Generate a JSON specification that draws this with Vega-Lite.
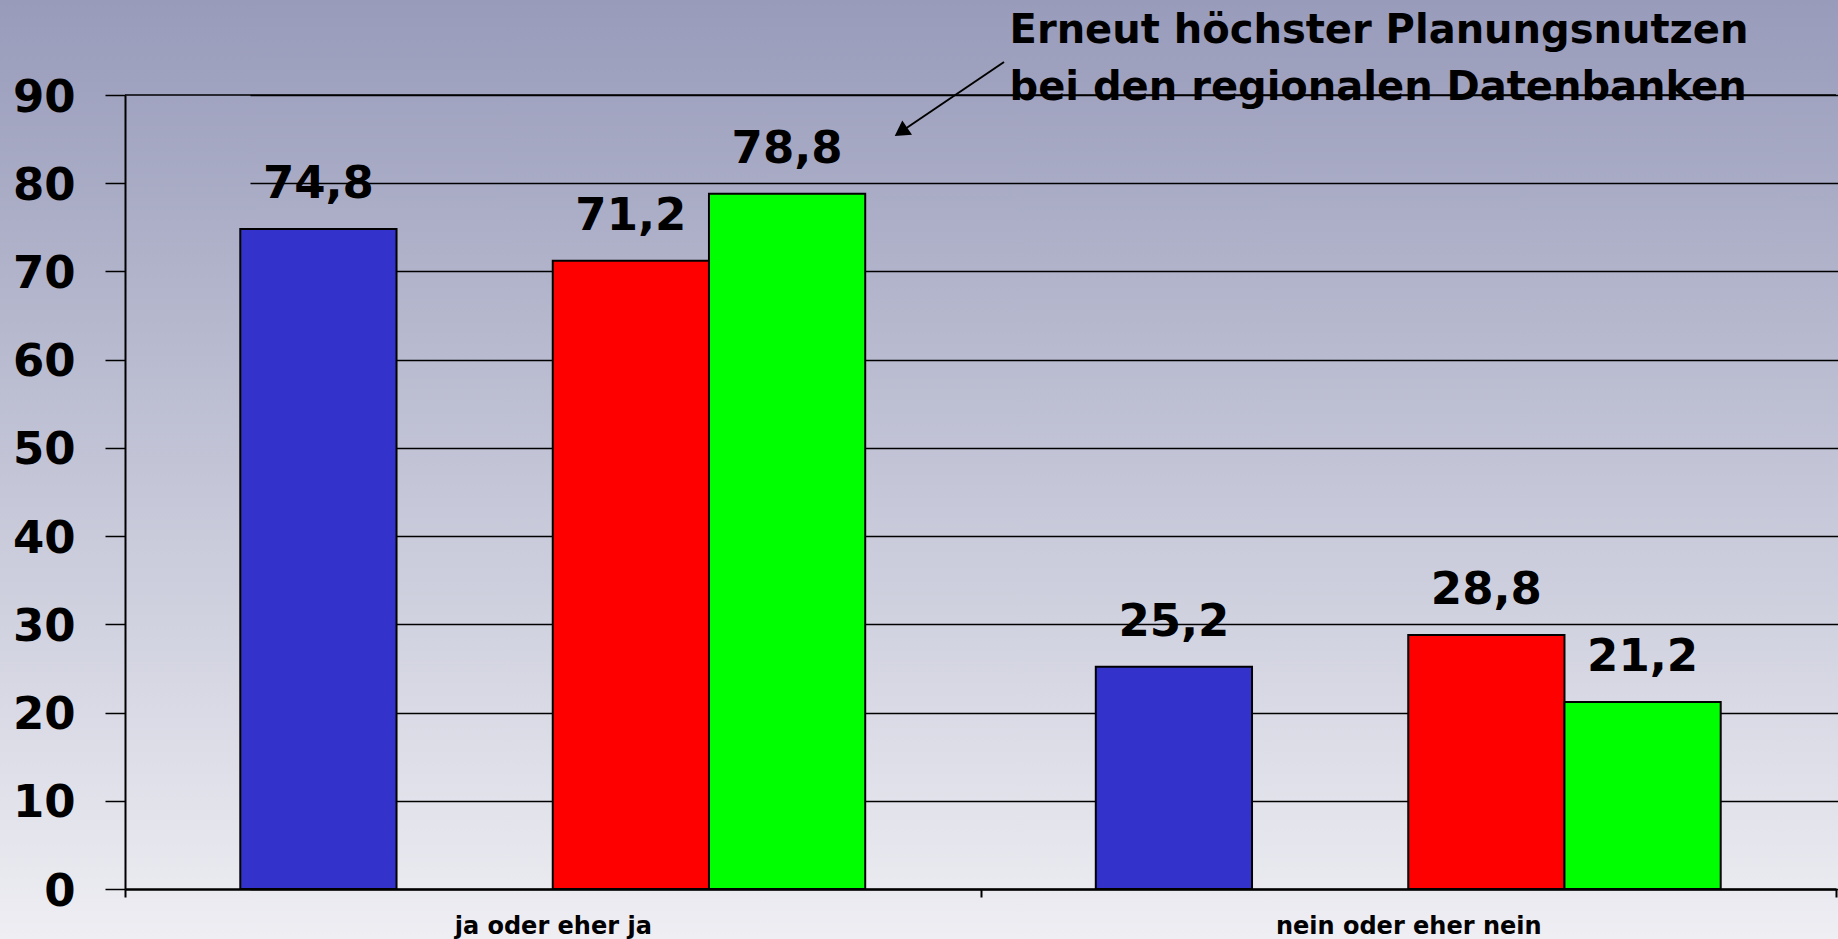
{
  "$schema": "https://vega.github.io/schema/vega-lite/v6.json",
  "width": 1838,
  "height": 939,
  "padding": 0,
  "autosize": {"type": "none"},
  "background": "#c4c5d6",
  "config": {
    "view": {
      "stroke": null,
      "fill": {
        "gradient": "linear",
        "x1": 0, "y1": 0, "x2": 0, "y2": 1,
        "stops": [
          {"offset": 0, "color": "#989bba"},
          {"offset": 1, "color": "#eeeef3"}
        ]
      }
    },
    "locale": {"number": {"decimal": ",", "thousands": ".", "grouping": [3], "currency": ["", " €"]}},
    "font": "DejaVu Sans",
    "axisX": {
      "orient": "bottom", "offset": -50, "tickBand": "extent",
      "tickSize": 8, "tickWidth": 2, "tickColor": "black",
      "domainColor": "black", "domainWidth": 2.5,
      "labelFont": "DejaVu Sans", "labelFontSize": 24, "labelFontWeight": "bold",
      "labelColor": "black", "labelPadding": 36, "labelBaseline": "alphabetic",
      "labelAngle": 0, "labelLimit": 1000, "grid": false
    },
    "axisY": {
      "offset": -125, "tickSize": 20, "tickWidth": 1.5, "tickColor": "black",
      "domainColor": "black", "domainWidth": 2,
      "grid": true, "gridColor": "black", "gridWidth": 1.5, "gridOpacity": 1,
      "labelFont": "DejaVu Sans", "labelFontSize": 45, "labelFontWeight": "bold",
      "labelColor": "black", "labelPadding": 30, "labelBaseline": "middle", "labelOffset": 2
    }
  },
  "data": {
    "values": [
      {"gruppe": "ja oder eher ja", "reihe": "Reihe 1", "wert": 74.8},
      {"gruppe": "ja oder eher ja", "reihe": "Reihe 3", "wert": 71.2},
      {"gruppe": "ja oder eher ja", "reihe": "Reihe 4", "wert": 78.8},
      {"gruppe": "nein oder eher nein", "reihe": "Reihe 1", "wert": 25.2},
      {"gruppe": "nein oder eher nein", "reihe": "Reihe 3", "wert": 28.8},
      {"gruppe": "nein oder eher nein", "reihe": "Reihe 4", "wert": 21.2}
    ]
  },
  "layer": [
    {
      "mark": {"type": "bar", "stroke": "black", "strokeWidth": 2},
      "encoding": {
        "x": {
          "field": "gruppe", "type": "nominal", "sort": null,
          "scale": {"range": [125, 1836], "paddingInner": 0, "paddingOuter": 0},
          "axis": {"title": null}
        },
        "xOffset": {
          "field": "reihe", "type": "nominal",
          "scale": {"domain": ["Reihe 1", "Reihe 2", "Reihe 3", "Reihe 4"], "paddingInner": 0, "paddingOuter": 0.738}
        },
        "y": {
          "field": "wert", "type": "quantitative",
          "scale": {"domain": [0, 90], "range": [889, 95], "nice": false, "zero": true},
          "axis": {"values": [0, 10, 20, 30, 40, 50, 60, 70, 80, 90], "title": null}
        },
        "color": {
          "field": "reihe", "type": "nominal",
          "scale": {"domain": ["Reihe 1", "Reihe 2", "Reihe 3", "Reihe 4"], "range": ["#3333cc", "#999999", "#ff0000", "#00ff00"]},
          "legend": null
        }
      }
    },
    {
      "mark": {"type": "text", "fontSize": 45, "fontWeight": "bold", "baseline": "alphabetic", "dy": -31, "color": "black", "font": "DejaVu Sans"},
      "encoding": {
        "x": {"field": "gruppe", "type": "nominal", "sort": null, "axis": {"title": null}},
        "xOffset": {"field": "reihe", "type": "nominal"},
        "y": {"field": "wert", "type": "quantitative", "axis": {"values": [0, 10, 20, 30, 40, 50, 60, 70, 80, 90], "title": null}},
        "text": {"field": "wert", "type": "quantitative", "format": ".1f"}
      }
    },
    {
      "data": {"values": [{}]},
      "mark": {"type": "rule", "strokeWidth": 1.5, "color": "black"},
      "encoding": {
        "x": {"datum": "ja oder eher ja", "type": "nominal", "bandPosition": 0, "axis": {"title": null}},
        "x2": {"datum": "nein oder eher nein", "bandPosition": 1},
        "y": {"datum": 90, "type": "quantitative", "axis": {"values": [0, 10, 20, 30, 40, 50, 60, 70, 80, 90], "title": null}}
      }
    },
    {
      "data": {"values": [{}]},
      "mark": {
        "type": "text",
        "text": ["Erneut höchster Planungsnutzen", "bei den regionalen Datenbanken"],
        "align": "left", "baseline": "alphabetic", "fontSize": 40, "fontWeight": "bold",
        "lineHeight": 57, "color": "black", "font": "DejaVu Sans"
      },
      "encoding": {
        "x": {"datum": "nein oder eher nein", "type": "nominal", "bandPosition": 0.034, "axis": {"title": null}},
        "y": {"datum": 95.9, "type": "quantitative", "axis": {"values": [0, 10, 20, 30, 40, 50, 60, 70, 80, 90], "title": null}}
      }
    },
    {
      "data": {"values": [{}]},
      "mark": {"type": "rule", "strokeWidth": 2, "color": "black"},
      "encoding": {
        "x": {"datum": "ja oder eher ja", "type": "nominal", "bandPosition": 1.0275, "axis": {"title": null}},
        "x2": {"datum": "ja oder eher ja", "bandPosition": 0.907},
        "y": {"datum": 93.74, "type": "quantitative", "axis": {"values": [0, 10, 20, 30, 40, 50, 60, 70, 80, 90], "title": null}},
        "y2": {"datum": 85.83}
      }
    },
    {
      "data": {"values": [{}]},
      "mark": {"type": "point", "shape": "triangle-up", "filled": true, "color": "black", "opacity": 1, "size": 300, "angle": 235.8},
      "encoding": {
        "x": {"datum": "ja oder eher ja", "type": "nominal", "bandPosition": 0.907, "axis": {"title": null}},
        "y": {"datum": 85.83, "type": "quantitative", "axis": {"values": [0, 10, 20, 30, 40, 50, 60, 70, 80, 90], "title": null}}
      }
    }
  ]
}
